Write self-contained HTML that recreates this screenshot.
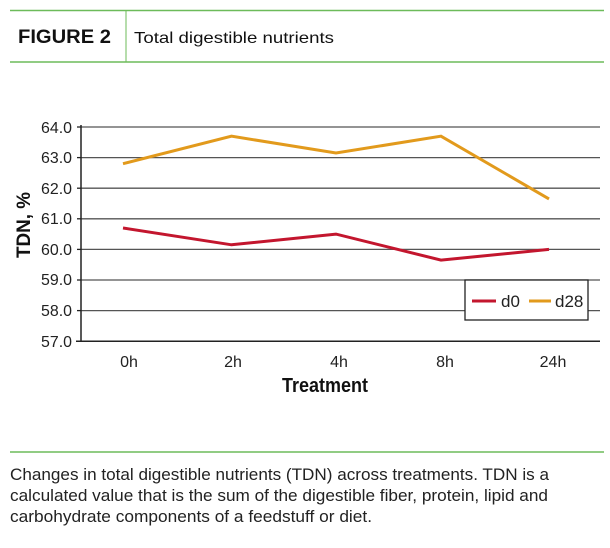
<!DOCTYPE html>
<html><head><style>
body{margin:0;background:#fff;width:610px;height:543px;overflow:hidden;font-family:"Liberation Sans",sans-serif}
</style></head><body>
<svg width="610" height="543" xmlns="http://www.w3.org/2000/svg" font-family="Liberation Sans Narrow, Liberation Sans, sans-serif">
<line x1="10" y1="10.5" x2="604" y2="10.5" stroke="#6dbb5a" stroke-width="1.5"/>
<line x1="10" y1="62" x2="604" y2="62" stroke="#6dbb5a" stroke-width="1.5"/>
<line x1="126" y1="10.5" x2="126" y2="62" stroke="#6dbb5a" stroke-width="1"/>
<text x="18" y="43" font-family="Liberation Sans, sans-serif" font-weight="bold" font-size="19" textLength="93" lengthAdjust="spacingAndGlyphs" fill="#111">FIGURE 2</text>
<text x="134" y="43" font-family="Liberation Sans, sans-serif" font-size="16" textLength="200" lengthAdjust="spacingAndGlyphs" fill="#111">Total digestible nutrients</text>
<g stroke="#555" stroke-width="1.3">
<line x1="81" y1="127" x2="600" y2="127"/><line x1="81" y1="157.6" x2="600" y2="157.6"/>
<line x1="81" y1="188.2" x2="600" y2="188.2"/><line x1="81" y1="218.8" x2="600" y2="218.8"/>
<line x1="81" y1="249.4" x2="600" y2="249.4"/><line x1="81" y1="280" x2="600" y2="280"/>
<line x1="81" y1="310.6" x2="600" y2="310.6"/>
</g>
<line x1="76" y1="341.2" x2="600" y2="341.2" stroke="#222" stroke-width="1.5"/>
<line x1="81" y1="125" x2="81" y2="341.2" stroke="#222" stroke-width="1.5"/>
<g stroke="#222" stroke-width="1.3">
<line x1="77" y1="127" x2="81" y2="127"/><line x1="77" y1="157.6" x2="81" y2="157.6"/>
<line x1="77" y1="188.2" x2="81" y2="188.2"/><line x1="77" y1="218.8" x2="81" y2="218.8"/>
<line x1="77" y1="249.4" x2="81" y2="249.4"/><line x1="77" y1="280" x2="81" y2="280"/>
<line x1="77" y1="310.6" x2="81" y2="310.6"/>
</g>
<g font-size="16" fill="#222" text-anchor="end">
<text x="72" y="133" textLength="31" lengthAdjust="spacingAndGlyphs">64.0</text><text x="72" y="163" textLength="31" lengthAdjust="spacingAndGlyphs">63.0</text><text x="72" y="194" textLength="31" lengthAdjust="spacingAndGlyphs">62.0</text>
<text x="72" y="224" textLength="31" lengthAdjust="spacingAndGlyphs">61.0</text><text x="72" y="255" textLength="31" lengthAdjust="spacingAndGlyphs">60.0</text><text x="72" y="285" textLength="31" lengthAdjust="spacingAndGlyphs">59.0</text>
<text x="72" y="316" textLength="31" lengthAdjust="spacingAndGlyphs">58.0</text><text x="72" y="347" textLength="31" lengthAdjust="spacingAndGlyphs">57.0</text>
</g>
<g font-size="16" fill="#222" text-anchor="middle">
<text x="129" y="367">0h</text><text x="233" y="367">2h</text><text x="339" y="367">4h</text>
<text x="445" y="367">8h</text><text x="553" y="367">24h</text>
</g>
<text x="325" y="392" font-size="20" font-weight="bold" text-anchor="middle" fill="#111" textLength="86" lengthAdjust="spacingAndGlyphs">Treatment</text>
<text transform="translate(30,225) rotate(-90)" font-size="19" font-weight="bold" text-anchor="middle" fill="#111" textLength="66" lengthAdjust="spacingAndGlyphs">TDN, %</text>
<polyline points="123,163.7 231.5,136.2 336,153 441,136.2 549,198.9" fill="none" stroke="#e29a1c" stroke-width="3"/>
<polyline points="123,228 231.5,244.8 336,234.1 441,260.1 549,249.4" fill="none" stroke="#c3162e" stroke-width="3"/>
<rect x="465" y="280" width="123" height="40" fill="#fff" stroke="#222" stroke-width="1.3"/>
<line x1="472" y1="301" x2="496" y2="301" stroke="#c3162e" stroke-width="3"/>
<text x="501" y="307" font-size="17" fill="#222">d0</text>
<line x1="529" y1="301" x2="551" y2="301" stroke="#e29a1c" stroke-width="3"/>
<text x="555" y="307" font-size="17" fill="#222">d28</text>
<line x1="10" y1="452" x2="604" y2="452" stroke="#6dbb5a" stroke-width="1.5"/>
<g font-family="Liberation Sans, sans-serif" font-size="16.5" fill="#222">
<text x="10" y="480" textLength="539" lengthAdjust="spacingAndGlyphs">Changes in total digestible nutrients (TDN) across treatments. TDN is a</text>
<text x="10" y="501" textLength="538" lengthAdjust="spacingAndGlyphs">calculated value that is the sum of the digestible fiber, protein, lipid and</text>
<text x="10" y="522" textLength="362" lengthAdjust="spacingAndGlyphs">carbohydrate components of a feedstuff or diet.</text>
</g>
</svg>
</body></html>
